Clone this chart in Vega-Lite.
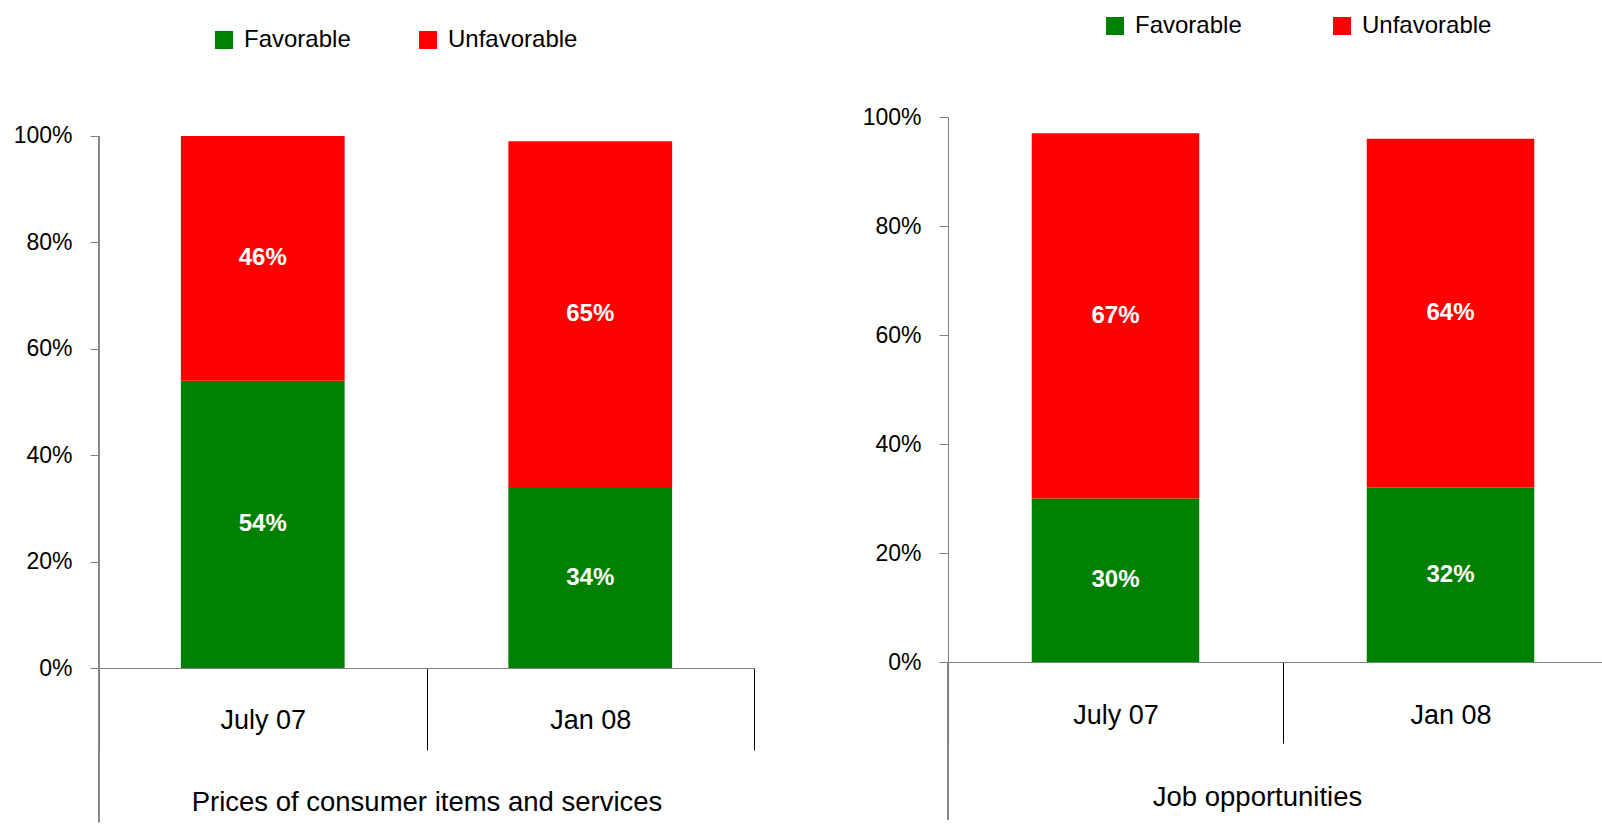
{
  "$schema": "https://vega.github.io/schema/vega-lite/v6.json",
  "background": "white",
  "padding": {"left": 13, "top": 8, "right": 0, "bottom": 0},
  "spacing": 107,
  "config": {
    "view": {"stroke": null},
    "axis": {"grid": false}
  },
  "datasets": {
    "prices": [
      {"period": "July 07", "opinion": "Favorable", "value": 0.54},
      {"period": "July 07", "opinion": "Unfavorable", "value": 0.46},
      {"period": "Jan 08", "opinion": "Favorable", "value": 0.34},
      {"period": "Jan 08", "opinion": "Unfavorable", "value": 0.65}
    ],
    "jobs": [
      {"period": "July 07", "opinion": "Favorable", "value": 0.30},
      {"period": "July 07", "opinion": "Unfavorable", "value": 0.67},
      {"period": "Jan 08", "opinion": "Favorable", "value": 0.32},
      {"period": "Jan 08", "opinion": "Unfavorable", "value": 0.64}
    ]
  },
  "resolve": {"scale": {"color": "independent", "y": "independent", "x": "independent"}, "legend": {"color": "independent"}},
  "hconcat": [
    {
      "width": 655,
      "height": 551,
      "data": {"name": "prices"},
      "transform": [
        {"stack": "value", "groupby": ["period"], "sort": [{"field": "opinion", "order": "ascending"}], "as": ["v0", "v1"]}
      ],
      "encoding": {
        "x": {
          "field": "period", "type": "nominal", "sort": ["July 07", "Jan 08"],
          "scale": {"paddingInner": 0, "paddingOuter": 0},
          "axis": {
            "title": "Prices of consumer items and services",
            "labelAngle": 0,
            "tickBand": "extent",
            "tickSize": 82,
            "tickColor": "#000000",
            "domainColor": "#808080",
            "labelPadding": -30,
            "labelBaseline": "middle",
            "labelFont": "Liberation Sans",
            "labelFontSize": 27,
            "labelColor": "#000000",
            "titleFont": "Liberation Sans",
            "titleFontSize": 27.5,
            "titleFontWeight": "normal",
            "titleColor": "#000000",
            "titlePadding": 38
          }
        }
      },
      "layer": [
        {
          "mark": {"type": "bar", "width": {"band": 0.5}},
          "encoding": {
            "y": {
              "field": "v0", "type": "quantitative",
              "scale": {"domain": [0, 1.0357], "nice": false, "zero": true},
              "axis": {
                "title": null, "values": [0, 0.2, 0.4, 0.6, 0.8, 1], "format": ".0%",
                "domain": false,
                "tickSize": 9, "labelPadding": 18,
                "tickColor": "#808080",
                "labelFont": "Liberation Sans", "labelFontSize": 23, "labelColor": "#000000"
              }
            },
            "y2": {"field": "v1"},
            "color": {
              "field": "opinion", "type": "nominal",
              "scale": {"domain": ["Favorable", "Unfavorable"], "range": ["#008000", "#FF0000"]},
              "legend": {
                "title": null, "orient": "none", "direction": "horizontal",
                "legendX": 107, "legendY": -95, "padding": 6,
                "symbolType": "square", "symbolSize": 324, "symbolStrokeWidth": 0,
                "labelFont": "Liberation Sans", "labelFontSize": 24, "labelColor": "#000000",
                "labelOffset": 8, "columnPadding": 65
              }
            }
          }
        },
        {
          "transform": [{"fold": ["v0", "v1"], "as": ["edge", "pos"]}],
          "mark": {"type": "text", "color": "white", "font": "Liberation Sans", "fontWeight": "bold", "fontSize": 24, "baseline": "middle"},
          "encoding": {
            "y": {"aggregate": "mean", "field": "pos", "type": "quantitative"},
            "detail": {"field": "opinion"},
            "text": {"field": "value", "type": "quantitative", "format": ".0%"}
          }
        },
        {
          "mark": {"type": "rule", "color": "#808080"},
          "encoding": {
            "x": {"datum": "July 07", "bandPosition": 0},
            "y": {"datum": 1},
            "y2": {"datum": -0.29}
          }
        }
      ]
    },
    {
      "width": 670,
      "height": 545,
      "data": {"name": "jobs"},
      "transform": [
        {"stack": "value", "groupby": ["period"], "sort": [{"field": "opinion", "order": "ascending"}], "as": ["v0", "v1"]}
      ],
      "encoding": {
        "x": {
          "field": "period", "type": "nominal", "sort": ["July 07", "Jan 08"],
          "scale": {"paddingInner": 0, "paddingOuter": 0},
          "axis": {
            "title": "Job opportunities",
            "titleX": 309,
            "labelAngle": 0,
            "tickBand": "extent",
            "tickSize": 81,
            "tickColor": "#000000",
            "domainColor": "#808080",
            "labelPadding": -28,
            "labelBaseline": "middle",
            "labelFont": "Liberation Sans",
            "labelFontSize": 27,
            "labelColor": "#000000",
            "titleFont": "Liberation Sans",
            "titleFontSize": 27.5,
            "titleFontWeight": "normal",
            "titleColor": "#000000",
            "titlePadding": 40
          }
        }
      },
      "layer": [
        {
          "mark": {"type": "bar", "width": {"band": 0.5}},
          "encoding": {
            "y": {
              "field": "v0", "type": "quantitative",
              "scale": {"domain": [0, 1], "nice": false},
              "axis": {
                "title": null, "values": [0, 0.2, 0.4, 0.6, 0.8, 1], "format": ".0%",
                "tickSize": 9, "labelPadding": 18,
                "tickColor": "#808080", "domainColor": "#808080",
                "labelFont": "Liberation Sans", "labelFontSize": 23, "labelColor": "#000000"
              }
            },
            "y2": {"field": "v1"},
            "color": {
              "field": "opinion", "type": "nominal",
              "scale": {"domain": ["Favorable", "Unfavorable"], "range": ["#008000", "#FF0000"]},
              "legend": {
                "title": null, "orient": "none", "direction": "horizontal",
                "legendX": 149, "legendY": -109, "padding": 6,
                "symbolType": "square", "symbolSize": 324, "symbolStrokeWidth": 0,
                "labelFont": "Liberation Sans", "labelFontSize": 24, "labelColor": "#000000",
                "labelOffset": 8, "columnPadding": 88
              }
            }
          }
        },
        {
          "transform": [{"fold": ["v0", "v1"], "as": ["edge", "pos"]}],
          "mark": {"type": "text", "color": "white", "font": "Liberation Sans", "fontWeight": "bold", "fontSize": 24, "baseline": "middle"},
          "encoding": {
            "y": {"aggregate": "mean", "field": "pos", "type": "quantitative"},
            "detail": {"field": "opinion"},
            "text": {"field": "value", "type": "quantitative", "format": ".0%"}
          }
        },
        {
          "mark": {"type": "rule", "color": "#808080"},
          "encoding": {
            "x": {"datum": "July 07", "bandPosition": 0},
            "y": {"datum": 0},
            "y2": {"datum": -0.29}
          }
        }
      ]
    }
  ]
}
